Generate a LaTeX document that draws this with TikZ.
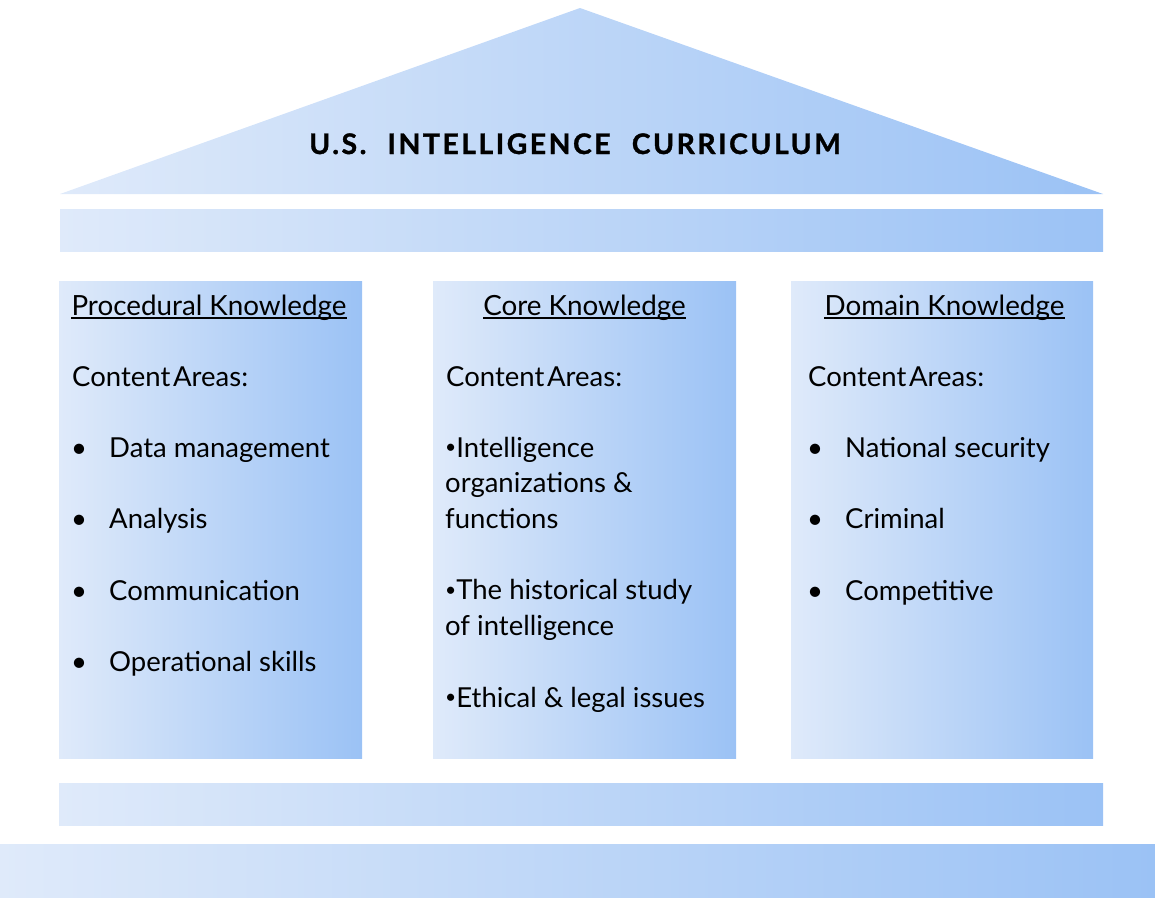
\documentclass[tikz,border=0pt]{standalone}
\usepackage{fontspec}
\setmainfont{Lato}
\newfontfamily\titlefont[LetterSpace=9, BoldFeatures={FakeBold=1.2}]{Lato}
\definecolor{lft}{RGB}{223,234,250}
\definecolor{rgt}{RGB}{155,194,245}
\begin{document}
\begin{tikzpicture}[x=1pt,y=-1pt,
  grad/.style={left color=lft, right color=rgt, draw=none},
  body/.style={anchor=base west, inner sep=0pt, font=\fontsize{27.5}{33}\selectfont},
  hdr/.style={anchor=base, inner sep=0pt, font=\fontsize{27.8}{33}\selectfont},
  ttl/.style={anchor=base, inner sep=0pt, font=\titlefont\bfseries\fontsize{28.3}{33}\selectfont},
  uline/.style={line width=1.4pt}]
\useasboundingbox (0,0) rectangle (1155,897);
% roof
\shade[grad] (60,194) -- (580,8) -- (1103,194) -- cycle;
% architrave
\shade[grad] (60,209) rectangle (1103,251);
% columns
\shade[grad] (59,281) rectangle (362,758);
\shade[grad] (433,281) rectangle (736,758);
\shade[grad] (791,281) rectangle (1093,758);
% base bars
\shade[grad] (59,783) rectangle (1103,825);
\shade[grad] (0,844) rectangle (1155,897);
% title
\node[ttl] (title) at (575,154) {U.S.\hspace{0.75em}INTELLIGENCE\hspace{0.75em}CURRICULUM};
% headers
\node[hdr] (h1) at (209,315) {Procedural Knowledge};
\node[hdr] (h2) at (584.5,315) {Core Knowledge};
\node[hdr] (h3) at (944.5,315) {Domain Knowledge};
\foreach \h in {h1,h2,h3}
  \draw[uline] ([yshift=-3pt]\h.base west) -- ([yshift=-3pt]\h.base east);
% content areas
\node[body] (c1) at (72,386) {Content\hspace{0.1em}Areas:};
\node[body] (c2) at (446,386) {Content\hspace{0.1em}Areas:};
\node[body] (c3) at (808,386) {Content\hspace{0.1em}Areas:};
% left column
\foreach \t/\yy [count=\i] in {Data management/457, Analysis/528.5, Communication/600, Operational skills/671.5}{
  \node[body] (b1\i) at (71,\yy) {•};
  \node[body] (l\i) at (109,\yy) {\t};
}
% right column
\foreach \t/\yy [count=\i] in {National security/457, Criminal/528.5, Competitive/600}{
  \node[body] (b3\i) at (807,\yy) {•};
  \node[body] (r\i) at (845,\yy) {\t};
}
% center column
\newcommand{\smb}{\raisebox{0.12em}{\scalebox{0.7}{•}}}
\node[body] (m1) at (445,457) {\smb Intelligence};
\node[body] (m2) at (445,492.5) {organizations \&};
\node[body] (m3) at (445,528) {functions};
\node[body] (m4) at (445,599.5) {\smb The historical study};
\node[body] (m5) at (445,635) {of intelligence};
\node[body] (m6) at (445,707) {\smb Ethical \& legal issues};
\end{tikzpicture}
\end{document}
